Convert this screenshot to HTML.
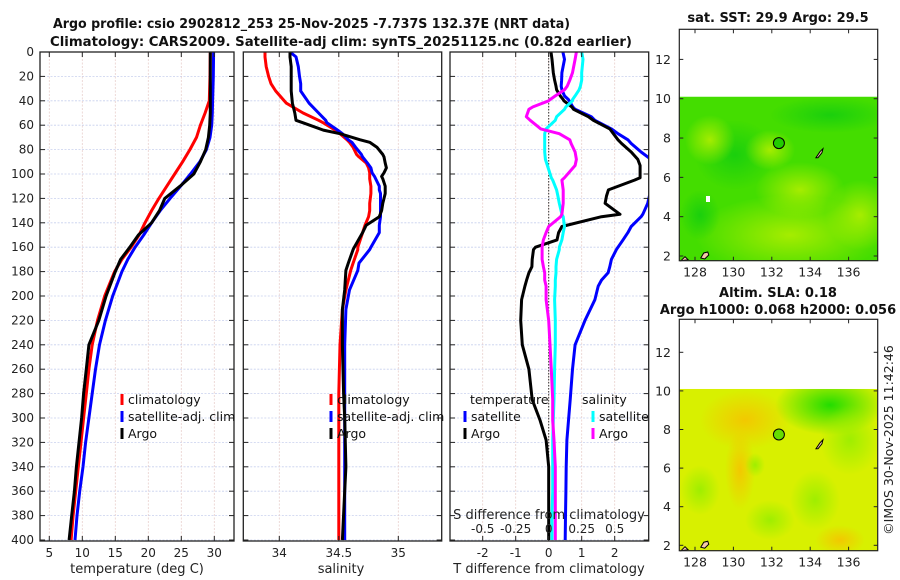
<!DOCTYPE html>
<html><head><meta charset="utf-8">
<style>
body{margin:0;background:#fff;}
svg{display:block;font-family:"DejaVu Sans","Liberation Sans",sans-serif;}
</style></head>
<body>
<svg id="chart" width="900" height="580" viewBox="0 0 900 580" xmlns="http://www.w3.org/2000/svg">
<defs>
<clipPath id="c1"><rect x="40" y="52" width="194" height="489"/></clipPath>
<clipPath id="c2"><rect x="243.3" y="52" width="198.4" height="489"/></clipPath>
<clipPath id="c3"><rect x="450" y="52" width="198.7" height="489"/></clipPath>
<radialGradient id="g1a" cx="0.5" cy="0.5" r="0.5"><stop offset="0" stop-color="#b0ee00" stop-opacity="0.9"/><stop offset="1" stop-color="#b0ee00" stop-opacity="0"/></radialGradient>
<radialGradient id="g1b" cx="0.5" cy="0.5" r="0.5"><stop offset="0" stop-color="#10cc10" stop-opacity="0.8"/><stop offset="1" stop-color="#10cc10" stop-opacity="0"/></radialGradient>
<radialGradient id="g2a" cx="0.5" cy="0.5" r="0.5"><stop offset="0" stop-color="#f5c400" stop-opacity="0.9"/><stop offset="1" stop-color="#f5c400" stop-opacity="0"/></radialGradient>
<radialGradient id="g2b" cx="0.5" cy="0.5" r="0.5"><stop offset="0" stop-color="#22dd00" stop-opacity="1"/><stop offset="1" stop-color="#22dd00" stop-opacity="0"/></radialGradient>
<radialGradient id="g2c" cx="0.5" cy="0.5" r="0.5"><stop offset="0" stop-color="#99ee00" stop-opacity="0.9"/><stop offset="1" stop-color="#99ee00" stop-opacity="0"/></radialGradient>
</defs>
<g id="root"></g>
</svg>
<script>
// ---- data ----
const depthT = [0,20,40,50,60,70,80,90,100,110,120,130,140,150,160,170,180,200,220,240,260,280,300,320,340,360,380,400];
const tempClim = [29.4,29.35,29.25,28.6,27.9,27.3,26.3,25.2,24.0,22.8,21.6,20.5,19.5,18.6,17.4,16.0,14.9,13.4,12.3,11.5,11.0,10.6,10.2,9.8,9.4,9.0,8.6,8.3];
const tempSat = [29.9,29.85,29.75,29.7,29.6,29.35,28.8,27.8,26.4,24.9,23.3,21.8,20.5,19.3,18.0,16.9,16.0,14.6,13.5,12.6,12.0,11.5,11.0,10.5,10.1,9.6,9.2,8.9];
const tempArgo = [29.4,29.4,29.4,29.4,29.3,29.1,28.7,27.9,26.9,24.8,22.5,21.7,20.5,18.5,17.2,15.8,15.0,13.6,12.5,11.0,10.6,10.2,9.9,9.5,9.1,8.8,8.4,8.0];

const depthS = [0,4,12,20,26,32,42,50,56,58,64,67,72,74,78,84,86,91,95,99,102,104,110,113,116,124,130,135,142,148,160,162,173,179,195,211,240,280,300,340,360,400];
const salClim = [33.88,33.88,33.89,33.91,33.93,33.97,34.06,34.2,34.33,34.37,34.47,34.51,34.57,34.59,34.62,34.65,34.67,34.73,34.75,34.76,34.76,34.76,34.77,34.77,34.77,34.76,34.76,34.75,34.72,34.70,34.66,34.66,34.62,34.60,34.56,34.53,34.51,34.5,34.5,34.5,34.5,34.5];
const salSat = [34.09,34.14,34.16,34.17,34.18,34.18,34.25,34.33,34.39,34.40,34.49,34.53,34.58,34.61,34.64,34.69,34.7,34.74,34.77,34.78,34.80,34.81,34.84,34.84,34.85,34.85,34.85,34.85,34.84,34.84,34.77,34.76,34.67,34.66,34.59,34.56,34.55,34.55,34.55,34.55,34.55,34.55];
const salArgo = [34.09,34.09,34.1,34.1,34.1,34.1,34.11,34.13,34.14,34.2,34.37,34.51,34.68,34.76,34.82,34.87,34.88,34.89,34.9,34.88,34.86,34.87,34.89,34.89,34.89,34.87,34.86,34.84,34.73,34.70,34.63,34.62,34.58,34.56,34.55,34.53,34.53,34.54,34.55,34.56,34.55,34.53];

const depthD = [0,6,17,23,28,31,36,39,40,45,47,53,56,63,67,72,75,82,88,93,103,105,113,118,124,133,135,143,148,154,160,162,170,176,181,187,192,203,220,240,260,285,302,318,340,360,380,400];
const dTsat = [0.43,0.48,0.4,0.39,0.38,0.40,0.48,0.6,0.62,0.73,0.8,1.29,1.4,1.9,2.1,2.4,2.5,2.8,3.1,3.3,3.4,3.3,3.2,3.05,3.0,2.85,2.8,2.5,2.4,2.25,2.1,2.05,1.9,1.85,1.8,1.6,1.5,1.4,1.1,0.8,0.72,0.65,0.6,0.55,0.53,0.52,0.51,0.5];
const dTargo = [0.07,0.1,0.14,0.18,0.22,0.24,0.35,0.44,0.46,0.7,0.75,1.2,1.35,1.85,1.96,2.1,2.21,2.5,2.7,2.77,2.77,2.6,1.81,1.75,1.71,2.16,1.6,0.40,0.3,0.25,-0.4,-0.46,-0.5,-0.51,-0.6,-0.67,-0.72,-0.82,-0.85,-0.8,-0.6,-0.5,-0.26,-0.08,0.0,0.0,0.0,0.0];
const dSsat = [0.25,0.26,0.25,0.25,0.24,0.23,0.2,0.18,0.18,0.13,0.12,0.06,0.05,-0.02,-0.03,-0.03,-0.03,-0.03,-0.025,-0.01,0.02,0.03,0.06,0.07,0.08,0.1,0.11,0.12,0.11,0.1,0.08,0.08,0.06,0.055,0.055,0.05,0.05,0.045,0.05,0.05,0.045,0.04,0.035,0.03,0.03,0.03,0.025,0.025];
const dSargo = [0.21,0.2,0.18,0.16,0.14,0.12,0.05,0.01,0.0,-0.12,-0.15,-0.17,-0.14,-0.06,0.08,0.16,0.17,0.2,0.21,0.2,0.12,0.1,0.11,0.11,0.11,0.1,0.09,0.0,-0.02,-0.04,-0.05,-0.05,-0.05,-0.04,-0.03,-0.03,-0.02,-0.02,0.0,0.01,0.02,0.03,0.03,0.04,0.05,0.05,0.05,0.05];

const depthTicks = [0,20,40,60,80,100,120,140,160,180,200,220,240,260,280,300,320,340,360,380,400];
const tempTicks = [5,10,15,20,25,30];
const salTicks = [34,34.5,35];
const salTickLabels = ["34","34.5","35"];
const dTTicks = [-2,-1,0,1,2];
const dSTicks = [-0.5,-0.25,0,0.25,0.5];
const dSTickLabels = ["-0.5","-0.25","0","0.25","0.5"];
const latTicks = [2,4,6,8,10,12];
const lonTicks = [128,130,132,134,136];

// ---- scales ----
const yD = d => 52 + d*1.22;
const xT = t => 49.3 + (t-5)*6.6;
const xS = s => 279.3 + (s-34)*119;
const xDT = t => 548.7 + t*33;
const xDS = s => 548.7 + s*4*33;

const NS='http://www.w3.org/2000/svg';
const root=document.getElementById('root');
function el(tag, attrs, parent, text){
  const e=document.createElementNS(NS,tag);
  for(const k in attrs) e.setAttribute(k,attrs[k]);
  if(text!==undefined) e.textContent=text;
  (parent||root).appendChild(e);
  return e;
}
function grp(name){
  const g=el('g',{});
  
  
  return g;
}

function panel(name, x0, x1, xticksPx){
  const g=grp(name);
  const gr=el('g',{},g);
  
  
  depthTicks.forEach(d=>{
    el('line',{x1:x0,x2:x1,y1:yD(d),y2:yD(d),stroke:'#c8d0ee','stroke-width':0.8,'stroke-dasharray':'2,1.5'},gr);
  });
  xticksPx.forEach(x=>{
    el('line',{x1:x,x2:x,y1:52,y2:541,stroke:'#e8d0cc','stroke-width':0.8,'stroke-dasharray':'2,1.5'},gr);
  });
  return g;
}
function frame(g,x0,x1,xticksPx,topTicks){
  depthTicks.forEach(d=>{
    el('line',{x1:x0,x2:x0+5,y1:yD(d),y2:yD(d),stroke:'#222','stroke-width':1},g);
    el('line',{x1:x1-5,x2:x1,y1:yD(d),y2:yD(d),stroke:'#222','stroke-width':1},g);
  });
  xticksPx.forEach(x=>{
    el('line',{x1:x,x2:x,y1:541,y2:536,stroke:'#222'},g);
    if(topTicks) el('line',{x1:x,x2:x,y1:52,y2:57,stroke:'#222'},g);
  });
  const r=el('rect',{x:x0,y:52,width:x1-x0,height:489,fill:'none',stroke:'#222','stroke-width':1.3},g);
  
  
}
function line(g, xs, ys, fx, color, clip, name, w){
  const pts=xs.map((v,i)=>fx(v).toFixed(1)+','+yD(ys[i]).toFixed(1)).join(' ');
  const p=el('polyline',{points:pts,fill:'none',stroke:color,'stroke-width':w||3,'stroke-linejoin':'round','clip-path':'url(#'+clip+')'},g);
  
  
}
function legend(g,x,y,color,label){
  const lg=el('g',{},g);
  
  
  el('line',{x1:x,x2:x,y1:y-6,y2:y+5,stroke:color,'stroke-width':3},lg);
  el('text',{x:x+6,y:y+4,'font-size':12.5,fill:'#111'},lg,label);
}

// titles
const t1=el('text',{x:53,y:28,'font-size':13,'font-weight':'bold',fill:'#111',textLength:517,lengthAdjust:'spacingAndGlyphs'},root,'Argo profile: csio 2902812_253 25-Nov-2025 -7.737S 132.37E (NRT data)');


const t2=el('text',{x:50,y:46,'font-size':13,'font-weight':'bold',fill:'#111',textLength:582,lengthAdjust:'spacingAndGlyphs'},root,'Climatology: CARS2009. Satellite-adj clim: synTS_20251125.nc (0.82d earlier)');



// depth labels
const dl=grp('depth-axis-labels');
depthTicks.forEach(d=>el('text',{x:34,y:yD(d)+4,'font-size':12,'text-anchor':'end',fill:'#222'},dl,String(d)));

// Panel 1 temperature
const p1=panel('temperature-panel',40,234,tempTicks.map(xT));
line(p1,tempClim,depthT,xT,'#ff0000','c1','climatology-temp-line');
line(p1,tempSat,depthT,xT,'#0000ff','c1','satellite-temp-line');
line(p1,tempArgo,depthT,xT,'#000000','c1','argo-temp-line');
frame(p1,40,234,tempTicks.map(xT),true);
tempTicks.forEach(t=>el('text',{x:xT(t),y:557,'font-size':12,'text-anchor':'middle',fill:'#222'},p1,String(t)));
const xl1=el('text',{x:137,y:573,'font-size':13,'text-anchor':'middle',fill:'#222'},p1,'temperature (deg C)');


legend(p1,122,400,'#ff0000','climatology');
legend(p1,122,417,'#0000ff','satellite-adj. clim');
legend(p1,122,434,'#000000','Argo');

// Panel 2 salinity
const p2=panel('salinity-panel',243.3,441.7,salTicks.map(xS));
line(p2,salClim,depthS,xS,'#ff0000','c2','climatology-salinity-line');
line(p2,salSat,depthS,xS,'#0000ff','c2','satellite-salinity-line');
line(p2,salArgo,depthS,xS,'#000000','c2','argo-salinity-line');
frame(p2,243.3,441.7,salTicks.map(xS),true);
salTicks.forEach((s,i)=>el('text',{x:xS(s),y:557,'font-size':12,'text-anchor':'middle',fill:'#222'},p2,salTickLabels[i]));
const xl2=el('text',{x:341,y:573,'font-size':13,'text-anchor':'middle',fill:'#222'},p2,'salinity');


legend(p2,331,400,'#ff0000','climatology');
legend(p2,331,417,'#0000ff','satellite-adj. clim');
legend(p2,331,434,'#000000','Argo');

// Panel 3 differences
const p3=panel('difference-panel',450,648.7,dTTicks.map(xDT));
const zl=el('line',{x1:xDT(0),x2:xDT(0),y1:52,y2:541,stroke:'#333','stroke-width':1,'stroke-dasharray':'1.5,1.5'},p3);


line(p3,dTsat,depthD,xDT,'#0000ff','c3','satellite-temp-diff-line');
line(p3,dTargo,depthD,xDT,'#000000','c3','argo-temp-diff-line');
line(p3,dSsat,depthD,xDS,'#00ffff','c3','satellite-salinity-diff-line');
line(p3,dSargo,depthD,xDS,'#ff00ff','c3','argo-salinity-diff-line');
frame(p3,450,648.7,dTTicks.map(xDT),true);
dTTicks.forEach(t=>el('text',{x:xDT(t),y:557,'font-size':12,'text-anchor':'middle',fill:'#222'},p3,String(t)));
const xl3=el('text',{x:549,y:573,'font-size':13,'text-anchor':'middle',fill:'#222'},p3,'T difference from climatology');


const sl=el('text',{x:549,y:519,'font-size':13,'text-anchor':'middle',fill:'#222'},p3,'S difference from climatology');


dSTicks.forEach((s,i)=>el('text',{x:xDS(s),y:533,'font-size':12,'text-anchor':'middle',fill:'#222'},p3,dSTickLabels[i]));
el('text',{x:470,y:404,'font-size':12.5,fill:'#111'},p3,'temperature');
el('text',{x:582,y:404,'font-size':12.5,fill:'#111'},p3,'salinity');
legend(p3,465,417,'#0000ff','satellite');
legend(p3,465,434,'#000000','Argo');
legend(p3,593,417,'#00ffff','satellite');
legend(p3,593,434,'#ff00ff','Argo');

// ---- maps ----
const mapLon = lo => 695 + (lo-128)*19.2;
function map(name, top, latY, fills){
  const g=grp(name);
  const y10=latY(10.1), bot=top+231.4;
  el('rect',{x:679.3,y:top,width:198.4,height:231.4,fill:'#fff'},g);
  const h=el('rect',{x:679.3,y:y10,width:198.4,height:bot-y10,fill:fills.base},g);
  
  
  const cp=el('clipPath',{id:name+'-clip'},g);
  el('rect',{x:679.3,y:y10,width:198.4,height:bot-y10},cp);
  const bl=el('g',{'clip-path':'url(#'+name+'-clip)'},g);
  fills.blobs.forEach(b=>el('ellipse',{cx:b[0],cy:b[1],rx:b[2],ry:b[3],fill:'url(#'+b[4]+')'},bl));
  el('path',{d:'M'+(mapLon(134.3))+','+latY(7.0)+' l4,-6 l3,-3 l-1,4 l-4,5 z',fill:'#f4c8a8',stroke:'#000','stroke-width':1},g);
  el('path',{d:'M'+(mapLon(128.3))+','+latY(1.9)+' l3,-5 l4,-1 l1,3 l-4,4 z M681,'+(bot)+' l4,-4 l3,3 z',fill:'#f4c8a8',stroke:'#000','stroke-width':1},g);
  const c=el('circle',{cx:mapLon(132.37),cy:latY(7.74),r:5.5,fill:fills.dot,stroke:'#000','stroke-width':1},g);
  
  
  el('rect',{x:679.3,y:top,width:198.4,height:231.4,fill:'none',stroke:'#222','stroke-width':1.2},g);
  latTicks.forEach(l=>{
    el('line',{x1:679.3,x2:683.3,y1:latY(l),y2:latY(l),stroke:'#222'},g);
    el('line',{x1:873.7,x2:877.7,y1:latY(l),y2:latY(l),stroke:'#222'},g);
    el('text',{x:671,y:latY(l)+4.5,'font-size':12.5,'text-anchor':'end',fill:'#222'},g,String(l));
  });
  lonTicks.forEach(lo=>{
    el('line',{x1:mapLon(lo),x2:mapLon(lo),y1:bot,y2:bot-4,stroke:'#222'},g);
    el('line',{x1:mapLon(lo),x2:mapLon(lo),y1:top,y2:top+4,stroke:'#222'},g);
    el('text',{x:mapLon(lo),y:bot+16,'font-size':12.5,'text-anchor':'middle',fill:'#222'},g,String(lo));
  });
  return g;
}
const m1=map('sst-map',29.3,l=>256-(l-2)*19.66,{base:'#44dd00',dot:'#22cc00',
  blobs:[[790,235,95,40,'g1a'],[800,190,45,28,'g1a'],[860,215,35,35,'g1a'],[735,155,40,35,'g1b'],[830,115,60,18,'g1b'],[710,140,25,25,'g1a'],[770,150,25,20,'g1a'],[700,215,20,25,'g1b']]});
el('rect',{x:706,y:196,width:4,height:6,fill:'#fff'},m1);
const mt1=el('text',{x:778,y:22,'font-size':13,'font-weight':'bold','text-anchor':'middle',fill:'#111'},m1,'sat. SST: 29.9 Argo: 29.5');



const m2=map('sla-map',319.3,l=>545.3-(l-2)*19.3,{base:'#d8f000',dot:'#66dd00',
  blobs:[[745,420,45,30,'g2a'],[740,470,15,40,'g2a'],[830,405,55,30,'g2b'],[850,440,30,35,'g2c'],[815,500,25,30,'g2c'],[700,490,20,25,'g2c'],[770,520,25,20,'g2c'],[755,465,10,12,'g2c'],[840,540,25,15,'g2a']]});
const mt2=el('text',{x:778,y:297,'font-size':13,'font-weight':'bold','text-anchor':'middle',fill:'#111'},m2,'Altim. SLA: 0.18');


const mt3=el('text',{x:778,y:314,'font-size':13,'font-weight':'bold','text-anchor':'middle',fill:'#111'},m2,'Argo h1000: 0.068 h2000: 0.056');



const cr=el('text',{x:0,y:0,'font-size':12.5,'text-anchor':'middle',fill:'#222',transform:'translate(893,440) rotate(-90)'},root,'©IMOS 30-Nov-2025 11:42:46');


</script>
</body></html>
